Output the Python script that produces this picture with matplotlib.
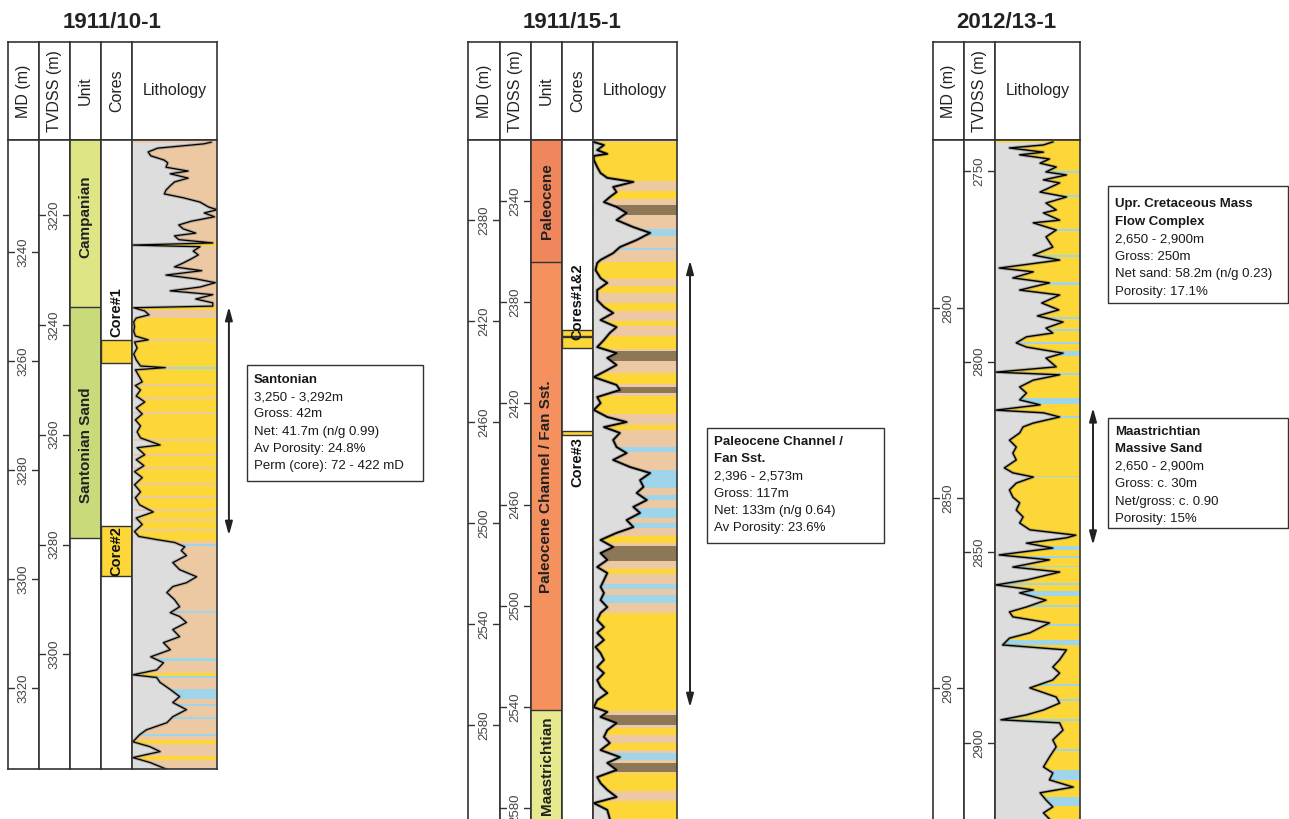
import matplotlib
matplotlib.use('Agg')
import matplotlib.pyplot as plt
from matplotlib.patches import Rectangle

plt.rcParams['font.family'] = ['Liberation Sans', 'DejaVu Sans']

W, H = 1289, 819

GREY = '#dddddd'
TAN = '#ecc9a3'
YEL = '#fdd638'
BLUE = '#9ed5eb'
DARK = '#8c7757'
LINE = '#333333'

# ---------------- 1911/10-1 ----------------
w1_md_lim = (3219.4, 3334.9)
w1_tvd_lim = (3206.3, 3320.9)
w1_md_ticks = [3240, 3260, 3280, 3300, 3320]
w1_tvd_ticks = [3220, 3240, 3260, 3280, 3300]
w1_units = ['Campanian', 'Santonian Sand']
w1_unit_top = [3219.4, 3250.0]
w1_unit_base = [3250.0, 3292.5]
w1_unit_col = ['#dde585', '#c9da7b']
w1_unit_lab = [3233.5, 3275.4]
w1_core_top = [3256.1, 3290.3]
w1_core_base = [3260.4, 3299.4]
w1_core_names = ['Core#1', 'Core#2']
w1_core_lab = [3251.0, 3294.8]
w1_md = [3219.8, 3220.1, 3220.9, 3221.6, 3222.3, 3223.1, 3223.6, 3224.4, 3225.1, 3225.6,
         3226.4, 3227.1, 3227.8, 3228.6, 3229.3, 3230.0, 3230.8, 3231.7, 3232.2, 3232.8,
         3233.5, 3234.3, 3235.0, 3235.7, 3236.5, 3237.0, 3237.7, 3238.3, 3238.7, 3239.0,
         3239.8, 3240.5, 3241.2, 3242.0, 3242.7, 3243.4, 3244.2, 3244.9, 3245.6, 3246.4,
         3247.1, 3247.8, 3248.6, 3249.3, 3249.9, 3250.2, 3250.8, 3251.5, 3252.1, 3252.8,
         3253.7, 3254.5, 3255.4, 3256.1, 3256.5, 3257.6, 3258.7, 3259.8, 3260.9, 3261.2,
         3261.6, 3262.7, 3263.8, 3264.5, 3265.3, 3266.4, 3267.5, 3268.6, 3269.7, 3270.8,
         3271.9, 3273.0, 3274.1, 3275.4, 3275.9, 3277.2, 3278.1, 3279.2, 3280.3, 3281.4,
         3282.7, 3284.0, 3285.1, 3286.4, 3287.7, 3288.8, 3290.0, 3291.3, 3292.2, 3292.8,
         3293.3, 3294.1, 3294.8, 3295.7, 3297.0, 3298.3, 3299.6, 3300.7, 3301.4, 3302.5,
         3303.8, 3305.1, 3306.2, 3306.9, 3308.0, 3309.3, 3310.6, 3311.7, 3313.0, 3314.3,
         3315.4, 3316.7, 3317.6, 3318.1, 3319.0, 3320.3, 3321.6, 3322.7, 3324.0, 3325.3,
         3326.4, 3327.7, 3328.6, 3329.9, 3330.8, 3331.7, 3332.8, 3333.7, 3334.9]
w1_gr = [0.93, 0.85, 0.30, 0.19, 0.22, 0.38, 0.42, 0.40, 0.66, 0.45,
         0.66, 0.50, 0.45, 0.40, 0.38, 0.60, 0.80, 0.90, 1.00, 0.85,
         0.97, 0.70, 0.55, 0.60, 0.75, 0.50, 0.55, 0.95, 0.00, 0.80,
         0.72, 0.78, 0.70, 0.60, 0.50, 0.82, 0.40, 0.75, 0.98, 0.80,
         0.45, 0.95, 0.75, 0.95, 0.95, 0.02, 0.15, 0.20, 0.05, 0.02,
         0.03, 0.02, 0.04, 0.19, 0.03, 0.06, 0.02, 0.05, 0.10, 0.39,
         0.04, 0.08, 0.12, 0.04, 0.10, 0.05, 0.15, 0.05, 0.12, 0.04,
         0.10, 0.06, 0.10, 0.33, 0.06, 0.15, 0.05, 0.14, 0.03, 0.12,
         0.03, 0.10, 0.04, 0.09, 0.25, 0.05, 0.12, 0.03, 0.08, 0.30,
         0.50, 0.62, 0.58, 0.64, 0.48, 0.56, 0.76, 0.64, 0.48, 0.41,
         0.50, 0.56, 0.45, 0.56, 0.64, 0.48, 0.56, 0.37, 0.45, 0.22,
         0.37, 0.29, 0.01, 0.29, 0.33, 0.45, 0.56, 0.48, 0.64, 0.48,
         0.41, 0.17, 0.09, 0.01, 0.21, 0.33, 0.01, 0.21, 0.40]
w1_yellow = [(3238.4, 3238.9), (3250.0, 3250.6), (3252.0, 3293.0), (3317.3, 3317.9),
             (3329.6, 3330.3), (3332.5, 3333.2)]
w1_blue = [(3261.0, 3261.4), (3293.6, 3294.0), (3305.9, 3306.3), (3314.6, 3315.0),
           (3317.9, 3318.2), (3320.3, 3322.0), (3322.9, 3323.3), (3325.3, 3325.8),
           (3328.4, 3328.8)]
w1_dark = []
w1_streaks = [3256.1, 3264.4, 3266.8, 3269.5, 3274.4, 3277.3, 3279.6, 3282.5, 3284.9,
              3287.3, 3289.1, 3291.1]
w1_arrow = (3250, 3292)
w1_text = ['Santonian', '3,250 - 3,292m', 'Gross: 42m', 'Net: 41.7m (n/g 0.99)',
           'Av Porosity: 24.8%', 'Perm (core): 72 - 422 mD']

# ---------------- 1911/15-1 ----------------
w2_md_lim = (2348.3, 2617.2)
w2_tvd_lim = (2315.9, 2584.3)
w2_md_ticks = [2380, 2420, 2460, 2500, 2540, 2580]
w2_tvd_ticks = [2340, 2380, 2420, 2460, 2500, 2540, 2580]
w2_units = ['Paleocene', 'Paleocene Channel / Fan Sst.', 'Maastrichtian']
w2_unit_top = [2348.3, 2396.6, 2574.0]
w2_unit_base = [2396.6, 2574.0, 2640.0]
w2_unit_col = ['#f0875c', '#f4915f', '#e6e98d']
w2_unit_lab = [2372.5, 2485.7, 2596.2]
w2_core_top = [2423.6, 2426.3, 2463.6]
w2_core_base = [2426.0, 2430.7, 2465.2]
w2_core_names = ['Cores#1&2', 'Core#3']
w2_core_lab = [2412.5, 2475.8]
w2_md = [2349.1, 2350.3, 2352.3, 2353.8, 2354.6, 2356.2, 2359.0, 2361.4, 2363.3, 2364.9,
         2366.9, 2368.9, 2370.9, 2372.9, 2374.8, 2377.2, 2380.0, 2382.8, 2385.1, 2387.9,
         2390.7, 2393.1, 2395.8, 2397.0, 2399.8, 2403.0, 2404.9, 2407.7, 2411.7, 2414.4,
         2416.8, 2419.6, 2422.4, 2424.7, 2427.5, 2430.3, 2432.7, 2434.6, 2437.4, 2439.4,
         2442.2, 2445.3, 2447.3, 2450.1, 2452.5, 2455.2, 2458.0, 2460.0, 2462.0, 2464.3,
         2467.1, 2469.9, 2472.3, 2475.0, 2477.8, 2480.2, 2483.0, 2485.7, 2488.1, 2490.9,
         2493.6, 2496.0, 2498.8, 2501.6, 2503.9, 2506.7, 2509.5, 2511.9, 2514.6, 2517.4,
         2519.8, 2522.6, 2525.3, 2527.7, 2530.5, 2533.3, 2535.6, 2538.4, 2541.2, 2543.5,
         2546.3, 2549.1, 2551.5, 2554.2, 2557.0, 2559.4, 2562.2, 2564.9, 2567.3, 2570.1,
         2572.9, 2574.8, 2576.8, 2579.2, 2582.0, 2584.7, 2587.1, 2589.9, 2592.7, 2595.0,
         2597.8, 2600.6, 2603.0, 2605.7, 2608.5, 2610.9, 2613.6, 2617.2]
w2_gr = [0.01, 0.13, 0.05, 0.17, 0.01, 0.01, 0.05, 0.09, 0.17, 0.48,
         0.24, 0.28, 0.20, 0.13, 0.28, 0.40, 0.28, 0.48, 0.68, 0.52,
         0.32, 0.24, 0.09, 0.05, 0.03, 0.09, 0.17, 0.05, 0.05, 0.13,
         0.24, 0.09, 0.28, 0.20, 0.13, 0.05, 0.28, 0.17, 0.28, 0.17,
         0.01, 0.28, 0.32, 0.05, 0.09, 0.01, 0.17, 0.40, 0.13, 0.32,
         0.24, 0.28, 0.40, 0.24, 0.44, 0.68, 0.56, 0.60, 0.52, 0.64,
         0.48, 0.56, 0.40, 0.48, 0.28, 0.09, 0.24, 0.09, 0.17, 0.05,
         0.17, 0.13, 0.09, 0.13, 0.09, 0.17, 0.09, 0.05, 0.13, 0.05,
         0.13, 0.03, 0.09, 0.13, 0.05, 0.13, 0.05, 0.09, 0.17, 0.05,
         0.01, 0.17, 0.09, 0.28, 0.17, 0.13, 0.20, 0.09, 0.32, 0.17,
         0.28, 0.05, 0.09, 0.17, 0.28, 0.01, 0.17, 0.20]
w2_yellow = [(2349.0, 2364.5), (2368.5, 2371.5), (2396.8, 2403.5), (2406.0, 2409.0),
             (2413.0, 2416.0), (2420.0, 2422.0), (2426.0, 2431.0), (2440.5, 2445.0),
             (2449.5, 2457.0), (2461.0, 2463.0), (2505.0, 2508.0), (2518.0, 2520.0),
             (2535.5, 2574.5), (2581.0, 2584.0), (2587.0, 2590.0), (2599.0, 2606.0),
             (2610.0, 2617.5)]
w2_blue = [(2383.5, 2386.5), (2391.0, 2392.0), (2470.0, 2472.0), (2479.0, 2486.0),
           (2489.0, 2491.0), (2494.0, 2498.0), (2500.0, 2502.0), (2524.0, 2526.0),
           (2528.5, 2531.5), (2591.0, 2594.0)]
w2_dark = [(2374.0, 2378.0), (2432.0, 2436.0), (2446.0, 2448.5), (2509.0, 2515.0),
           (2576.0, 2580.0), (2595.0, 2598.5)]
w2_arrow = (2396, 2573)
w2_text = ['Paleocene Channel /', 'Fan Sst.', '2,396 - 2,573m', 'Gross: 117m',
           'Net: 133m (n/g 0.64)', 'Av Porosity: 23.6%']

# ---------------- 2012/13-1 ----------------
w3_md_lim = (2755.8, 2934.5)
w3_tvd_lim = (2741.9, 2919.9)
w3_md_ticks = [2800, 2850, 2900]
w3_tvd_ticks = [2750, 2800, 2850, 2900]
w3_md = [2756.3, 2757.1, 2757.9, 2759.0, 2759.7, 2760.8, 2761.9, 2762.9, 2764.2, 2765.0,
         2766.3, 2767.1, 2769.5, 2770.8, 2772.4, 2774.2, 2775.0, 2776.9, 2777.6, 2779.5,
         2781.3, 2784.0, 2786.1, 2787.4, 2789.5, 2790.5, 2792.1, 2793.4, 2795.3, 2796.6,
         2798.7, 2800.5, 2802.1, 2803.7, 2805.3, 2806.6, 2807.6, 2809.2, 2810.3, 2811.9,
         2813.2, 2815.5, 2816.9, 2817.6, 2819.0, 2820.8, 2822.4, 2824.2, 2825.5, 2826.9,
         2827.6, 2828.7, 2830.3, 2831.3, 2832.9, 2834.8, 2836.6, 2838.2, 2840.0, 2842.1,
         2843.4, 2844.5, 2846.1, 2847.9, 2849.8, 2851.3, 2853.2, 2855.0, 2856.6, 2858.4,
         2859.8, 2860.5, 2861.9, 2863.2, 2865.0, 2866.3, 2868.2, 2869.5, 2871.6, 2872.9,
         2874.2, 2875.0, 2876.9, 2878.7, 2880.0, 2881.3, 2882.9, 2885.5, 2886.9, 2888.7,
         2890.0, 2892.6, 2894.5, 2896.1, 2897.9, 2900.0, 2902.4, 2904.0, 2905.8, 2907.1,
         2908.4, 2909.2, 2911.1, 2913.7, 2915.5, 2918.2, 2920.8, 2922.4, 2924.2, 2926.1,
         2927.6, 2929.5, 2931.3, 2932.9, 2934.5]
w3_gr = [0.68, 0.57, 0.17, 0.57, 0.29, 0.64, 0.53, 0.72, 0.60, 0.84,
         0.57, 0.76, 0.53, 0.84, 0.60, 0.72, 0.57, 0.76, 0.45, 0.72,
         0.60, 0.68, 0.45, 0.76, 0.05, 0.45, 0.21, 0.64, 0.29, 0.76,
         0.55, 0.75, 0.50, 0.80, 0.60, 0.68, 0.37, 0.25, 0.37, 0.80,
         0.60, 0.72, 0.01, 0.76, 0.45, 0.29, 0.37, 0.29, 0.53, 0.01,
         0.57, 0.76, 0.45, 0.33, 0.29, 0.17, 0.25, 0.21, 0.25, 0.11,
         0.21, 0.45, 0.25, 0.17, 0.21, 0.29, 0.25, 0.33, 0.29, 0.41,
         0.95, 0.84, 0.37, 0.68, 0.05, 0.64, 0.21, 0.76, 0.37, 0.01,
         0.45, 0.29, 0.60, 0.37, 0.17, 0.21, 0.64, 0.41, 0.17, 0.09,
         0.84, 0.76, 0.68, 0.76, 0.68, 0.41, 0.72, 0.76, 0.57, 0.37,
         0.07, 0.76, 0.80, 0.68, 0.72, 0.64, 0.57, 0.68, 0.64, 0.92,
         0.53, 0.60, 0.68, 0.57, 0.64]
w3_yellow = []
w3_blue = [(2764.0, 2764.5), (2770.3, 2770.9), (2779.2, 2779.8), (2786.1, 2786.6),
           (2793.3, 2793.9), (2802.3, 2802.9), (2805.5, 2806.1), (2809.0, 2809.6),
           (2811.3, 2812.7), (2817.1, 2817.6), (2823.7, 2825.3), (2828.5, 2829.0),
           (2844.1, 2844.5), (2862.6, 2863.7), (2865.4, 2865.9), (2867.8, 2868.3),
           (2872.3, 2872.8), (2874.5, 2875.8), (2878.3, 2878.8), (2883.3, 2883.8),
           (2887.4, 2888.7), (2899.0, 2899.5), (2903.0, 2903.5), (2908.2, 2908.7),
           (2916.1, 2916.6), (2921.6, 2924.2), (2928.7, 2931.1)]
w3_dark = []
w3_arrow = (2826.3, 2862.4)
w3_text_a = ['Upr. Cretaceous Mass', 'Flow Complex', '2,650 - 2,900m', 'Gross: 250m',
             'Net sand: 58.2m (n/g 0.23)', 'Porosity: 17.1%']
w3_text_b = ['Maastrichtian', 'Massive Sand', '2,650 - 2,900m', 'Gross: c. 30m',
             'Net/gross: c. 0.90', 'Porosity: 15%']


fig = plt.figure(figsize=(W / 100, H / 100), dpi=100)


def frac(x0, y0, x1, y1):
    return [x0 / W, 1 - y1 / H, (x1 - x0) / W, (y1 - y0) / H]


def frame(ax, open_bottom=False):
    ax.set_xticks([])
    ax.set_yticks([])
    for s in ax.spines.values():
        s.set_color(LINE)
        s.set_linewidth(1.2)
    if open_bottom:
        ax.spines['bottom'].set_visible(False)


def header(x0, x1, label, vertical=True):
    ax = fig.add_axes(frac(x0, 42, x1, 140))
    frame(ax)
    ax.text(0.5, 0.5, label, rotation=90 if vertical else 0, ha='center', va='center',
            fontsize=11.5, color='#222222', transform=ax.transAxes)


def track(x0, x1, lim, bottom):
    ax = fig.add_axes(frac(x0, 140, x1, bottom))
    ax.set_xlim(0, 1)
    ax.set_ylim(lim[1], lim[0])
    frame(ax, bottom >= H)
    return ax


def depth_col(x0, x1, label, lim, ticks, bottom):
    header(x0, x1, label)
    ax = track(x0, x1, lim, bottom)
    for t in ticks:
        ax.axhline(t, color=LINE, lw=1.0)
        ax.text(0.5, t, str(t), rotation=90, ha='center', va='center', fontsize=9.5,
                color='#444444', bbox=dict(boxstyle='square,pad=0.2', fc='white', ec='none'))


def unit_col(x0, x1, lim, bottom, names, tops, bases, cols, labs):
    header(x0, x1, 'Unit')
    ax = track(x0, x1, lim, bottom)
    for n, t, b, c, l in zip(names, tops, bases, cols, labs):
        ax.axhspan(t, b, color=c, lw=0)
        ax.axhline(b, color=LINE, lw=1.0)
        ax.text(0.5, l, n, rotation=90, ha='center', va='center', fontsize=11,
                fontweight='bold', color='#222222')


def core_col(x0, x1, lim, bottom, tops, bases, names, labs):
    header(x0, x1, 'Cores')
    ax = track(x0, x1, lim, bottom)
    for t, b in zip(tops, bases):
        ax.axhspan(t, b, facecolor=YEL, edgecolor=LINE, lw=1.0)
    for n, l in zip(names, labs):
        ax.text(0.5, l, n, rotation=90, ha='center', va='center', fontsize=10.5,
                fontweight='bold', color='#111111',
                family=['Liberation Sans Narrow', 'Liberation Sans', 'DejaVu Sans'])


def litho_col(x0, x1, lim, bottom, md, gr, base, yellow, blue, dark, lw, streaks=()):
    header(x0, x1, 'Lithology', vertical=False)
    ax = track(x0, x1, lim, bottom)
    ax.set_facecolor(base)
    for color, spans in ((YEL, yellow), (BLUE, blue), (DARK, dark)):
        for t, b in spans:
            ax.axhspan(t, b, color=color, lw=0)
    for s in streaks:
        ax.axhline(s, color='#e6c8b2', lw=1.2)
    ax.fill_betweenx(md, 0, gr, color=GREY, lw=0)
    ax.plot(gr, md, color='#555555', lw=lw + 1.4, alpha=0.35)
    ax.plot(gr, md, color='black', lw=lw)
    return ax


def arrow(ax, span, x):
    ax.annotate('', xy=(x, span[1]), xytext=(x, span[0]), xycoords=('axes fraction', 'data'),
                textcoords=('axes fraction', 'data'), annotation_clip=False,
                arrowprops=dict(arrowstyle='<|-|>,head_length=0.8,head_width=0.22',
                                color='#222222', lw=1.4, shrinkA=0, shrinkB=0))


# well 1
depth_col(8, 39, 'MD (m)', w1_md_lim, w1_md_ticks, 769)
depth_col(39, 70, 'TVDSS (m)', w1_tvd_lim, w1_tvd_ticks, 769)
unit_col(70, 101, w1_md_lim, 769, w1_units, w1_unit_top, w1_unit_base, w1_unit_col, w1_unit_lab)
core_col(101, 132, w1_md_lim, 769, w1_core_top, w1_core_base, w1_core_names, w1_core_lab)
ax1 = litho_col(132, 217, w1_md_lim, 769, w1_md, w1_gr, TAN, w1_yellow, w1_blue, w1_dark,
                0.9, w1_streaks)
arrow(ax1, w1_arrow, 1.14)

# well 2
depth_col(468, 500, 'MD (m)', w2_md_lim, w2_md_ticks, H)
depth_col(500, 531, 'TVDSS (m)', w2_tvd_lim, w2_tvd_ticks, H)
unit_col(531, 562, w2_md_lim, H, w2_units, w2_unit_top, w2_unit_base, w2_unit_col, w2_unit_lab)
core_col(562, 593, w2_md_lim, H, w2_core_top, w2_core_base, w2_core_names, w2_core_lab)
ax2 = litho_col(593, 677, w2_md_lim, H, w2_md, w2_gr, TAN, w2_yellow, w2_blue, w2_dark, 1.3)
arrow(ax2, w2_arrow, 1.155)

# well 3
depth_col(933, 964, 'MD (m)', w3_md_lim, w3_md_ticks, H)
depth_col(964, 995, 'TVDSS (m)', w3_tvd_lim, w3_tvd_ticks, H)
ax3 = litho_col(995, 1080, w3_md_lim, H, w3_md, w3_gr, YEL, w3_yellow, w3_blue, w3_dark, 1.0)
arrow(ax3, w3_arrow, 1.153)

# titles and info boxes on a pixel overlay
ov = fig.add_axes([0, 0, 1, 1])
ov.set_xlim(0, W)
ov.set_ylim(H, 0)
ov.axis('off')

for x, t in [(112, '1911/10-1'), (572, '1911/15-1'), (1006, '2012/13-1')]:
    ov.text(x, 23, t, fontsize=16, fontweight='bold', ha='center', va='center', color='#222222')


def info_box(x0, y0, x1, y1, lines, nbold, first, step):
    ov.add_patch(Rectangle((x0, y0), x1 - x0, y1 - y0, fill=False, ec=LINE, lw=1.0))
    for i, s in enumerate(lines):
        ov.text(x0 + 7, first + i * step, s, fontsize=9.5, ha='left', va='center',
                fontweight='bold' if i < nbold else 'normal', color='#1a1a1a')


info_box(247, 365, 423, 481, w1_text, 1, 380, 17.2)
info_box(707, 428, 884, 543, w2_text, 2, 442, 17.2)
info_box(1108, 186, 1288, 303, w3_text_a, 2, 204, 17.5)
info_box(1108, 418, 1288, 528, w3_text_b, 2, 432, 17.4)

fig.savefig('out.png', dpi=100)
